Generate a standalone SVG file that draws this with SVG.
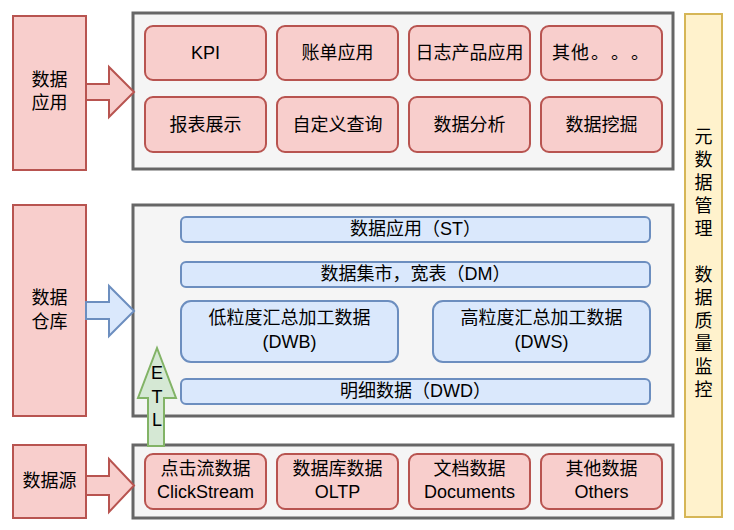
<svg xmlns="http://www.w3.org/2000/svg" width="734" height="530" viewBox="0 0 734 530">
<style>
text{font-family:"Liberation Sans","Noto Sans CJK SC",sans-serif;font-size:18px;fill:#000;text-anchor:middle}
.cjk{font-family:"Noto Sans CJK SC",sans-serif;text-anchor:start}
.red{fill:#f8cecc;stroke:#b85450;stroke-width:2}
.blue{fill:#dae8fc;stroke:#6c8ebf;stroke-width:2}
.green{fill:#d5e8d4;stroke:#82b366;stroke-width:2}
.yel{fill:#fff2cc;stroke:#d6b656;stroke-width:2}
.box{fill:#f5f5f5;stroke:#666666;stroke-width:3}
</style>
<rect width="734" height="530" fill="#ffffff"/>
<g id="containers">
<rect id="app-container" class="box" x="133" y="13" width="540" height="156"/>
<rect id="dw-container" class="box" x="133" y="205" width="540" height="211"/>
<rect id="src-container" class="box" x="133" y="445" width="540" height="73"/>
</g>
<g id="layer-app"><rect class="red" x="13" y="16" width="73" height="154"/><text x="49.5" y="86">数据</text><text x="49.5" y="109">应用</text></g>
<g id="layer-dw"><rect class="red" x="13" y="205" width="73" height="211"/><text x="49.5" y="304">数据</text><text x="49.5" y="328">仓库</text></g>
<g id="layer-src"><rect class="red" x="13" y="445" width="73" height="73"/><text x="49.5" y="487">数据源</text></g>
<g id="meta"><rect class="yel" x="685" y="14" width="37" height="503"/>
<text x="703.5" y="143">元</text><text x="703.5" y="166">数</text><text x="703.5" y="189">据</text><text x="703.5" y="212">管</text><text x="703.5" y="235">理</text>
<text x="703.5" y="281">数</text><text x="703.5" y="304">据</text><text x="703.5" y="327">质</text><text x="703.5" y="350">量</text><text x="703.5" y="373">监</text><text x="703.5" y="396">控</text></g>
<g id="kpi"><rect class="red" x="145" y="26" width="121" height="54" rx="8"/><text x="205.5" y="59">KPI</text></g>
<g id="bill"><rect class="red" x="277" y="26" width="121" height="54" rx="8"/><text x="337.5" y="59">账单应用</text></g>
<g id="log"><rect class="red" x="409" y="26" width="121" height="54" rx="8"/><text x="469.5" y="59">日志产品应用</text></g>
<g id="other-app"><rect class="red" x="541" y="26" width="121" height="54" rx="8"/><text class="cjk" x="552 571 591 611 631" y="59">其他。。。</text></g>
<g id="report"><rect class="red" x="145" y="97" width="121" height="55" rx="8"/><text x="205.5" y="131">报表展示</text></g>
<g id="query"><rect class="red" x="277" y="97" width="121" height="55" rx="8"/><text x="337.5" y="131">自定义查询</text></g>
<g id="analysis"><rect class="red" x="409" y="97" width="121" height="55" rx="8"/><text x="469.5" y="131">数据分析</text></g>
<g id="mining"><rect class="red" x="541" y="97" width="121" height="55" rx="8"/><text x="601.5" y="131">数据挖掘</text></g>
<g id="st"><rect class="blue" x="181" y="217" width="469" height="25" rx="5"/><text x="415.5" y="235">数据应用（ST）</text></g>
<g id="dm"><rect class="blue" x="181" y="262" width="469" height="25" rx="5"/><text x="415.5" y="280">数据集市，宽表（DM）</text></g>
<g id="dwb"><rect class="blue" x="181" y="301" width="217" height="61" rx="10"/><text x="289.5" y="324">低粒度汇总加工数据</text><text x="289.5" y="348">(DWB)</text></g>
<g id="dws"><rect class="blue" x="433" y="301" width="217" height="61" rx="10"/><text x="541.5" y="324">高粒度汇总加工数据</text><text x="541.5" y="348">(DWS)</text></g>
<g id="dwd"><rect class="blue" x="181" y="379" width="469" height="25" rx="5"/><text x="415.5" y="397">明细数据（DWD）</text></g>
<g id="clickstream"><rect class="red" x="145" y="454" width="121" height="55" rx="8"/><text x="205.5" y="475">点击流数据</text><text x="205.5" y="498">ClickStream</text></g>
<g id="oltp"><rect class="red" x="277" y="454" width="121" height="55" rx="8"/><text x="337.5" y="475">数据库数据</text><text x="337.5" y="498">OLTP</text></g>
<g id="documents"><rect class="red" x="409" y="454" width="121" height="55" rx="8"/><text x="469.5" y="475">文档数据</text><text x="469.5" y="498">Documents</text></g>
<g id="others"><rect class="red" x="541" y="454" width="121" height="55" rx="8"/><text x="601.5" y="475">其他数据</text><text x="601.5" y="498">Others</text></g>
<g id="connectors">
<polygon class="red" points="86,84 109,84 109,67 134,92 109,117 109,100 86,100"/>
<polygon class="blue" points="86,302 109,302 109,286 134,311 109,336 109,319 86,319"/>
<polygon class="red" points="86,476 109,476 109,459 134,485.5 109,512 109,495 86,495"/>
<polygon class="green" points="148,446 148,398 138,398 157,348 176,398 164,398 164,446"/>
<text x="157" y="379">E</text><text x="157" y="403">T</text><text x="157" y="426">L</text>
</g>
</svg>
